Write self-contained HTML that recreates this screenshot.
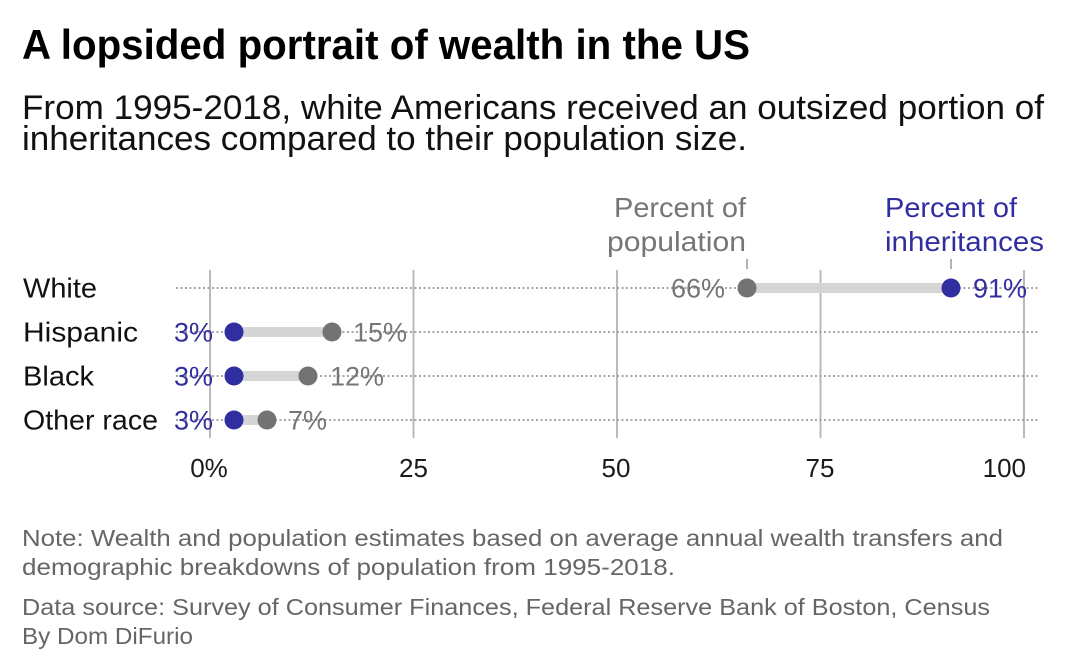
<!DOCTYPE html>
<html>
<head>
<meta charset="utf-8">
<style>
  html, body { margin: 0; padding: 0; background: #ffffff; }
  svg { display: block; }
  text { font-family: "Liberation Sans", Arial, sans-serif; }
</style>
</head>
<body>
<svg width="1080" height="672" viewBox="0 0 1080 672" xmlns="http://www.w3.org/2000/svg">
  <rect x="0" y="0" width="1080" height="672" fill="#ffffff"/>

  <!-- Title -->
  <text x="22" y="59" font-size="42" font-weight="bold" fill="#000" textLength="728" lengthAdjust="spacingAndGlyphs">A lopsided portrait of wealth in the US</text>

  <!-- Subtitle -->
  <text x="22" y="119" font-size="34" fill="#111" textLength="1022" lengthAdjust="spacingAndGlyphs">From 1995-2018, white Americans received an outsized portion of</text>
  <text x="22" y="150" font-size="34" fill="#111" textLength="725" lengthAdjust="spacingAndGlyphs">inheritances compared to their population size.</text>

  <!-- Legend -->
  <text x="746" y="217" font-size="28" fill="#767676" text-anchor="end" textLength="132" lengthAdjust="spacingAndGlyphs">Percent of</text>
  <text x="746" y="251" font-size="28" fill="#767676" text-anchor="end" textLength="139" lengthAdjust="spacingAndGlyphs">population</text>
  <text x="885" y="217" font-size="28" fill="#312e9f" textLength="132" lengthAdjust="spacingAndGlyphs">Percent of</text>
  <text x="885" y="251" font-size="28" fill="#312e9f" textLength="159" lengthAdjust="spacingAndGlyphs">inheritances</text>
  <line x1="747" y1="259" x2="747" y2="269" stroke="#9a9a9a" stroke-width="1.5"/>
  <line x1="951" y1="259" x2="951" y2="269" stroke="#9a9a9a" stroke-width="1.5"/>

  <!-- Vertical gridlines -->
  <g stroke="#b3b3b3" stroke-width="1.8">
    <line x1="210" y1="270" x2="210" y2="438"/>
    <line x1="413.5" y1="270" x2="413.5" y2="438"/>
    <line x1="617" y1="270" x2="617" y2="438"/>
    <line x1="820.5" y1="270" x2="820.5" y2="438"/>
    <line x1="1024" y1="270" x2="1024" y2="438"/>
  </g>

  <!-- Dotted row lines -->
  <g stroke="#999999" stroke-width="1.8" stroke-dasharray="2 2.5">
    <line x1="176" y1="288" x2="1040" y2="288"/>
    <line x1="176" y1="332" x2="1040" y2="332"/>
    <line x1="176" y1="376" x2="1040" y2="376"/>
    <line x1="176" y1="420" x2="1040" y2="420"/>
  </g>

  <!-- Bars -->
  <g stroke="#d3d3d3" stroke-width="10" opacity="0.95">
    <line x1="747" y1="288" x2="951" y2="288"/>
    <line x1="234" y1="332" x2="332" y2="332"/>
    <line x1="234" y1="376" x2="308" y2="376"/>
    <line x1="234" y1="420" x2="267" y2="420"/>
  </g>

  <!-- Population dots (gray) -->
  <g fill="#737373">
    <circle cx="747" cy="288" r="9.5"/>
    <circle cx="332" cy="332" r="9.5"/>
    <circle cx="308" cy="376" r="9.5"/>
    <circle cx="267" cy="420" r="9.5"/>
  </g>

  <!-- Inheritance dots (blue) -->
  <g fill="#312e9f">
    <circle cx="951" cy="288" r="9.5"/>
    <circle cx="234" cy="332" r="9.5"/>
    <circle cx="234" cy="376" r="9.5"/>
    <circle cx="234" cy="420" r="9.5"/>
  </g>

  <!-- Row labels -->
  <g font-size="28" fill="#111">
    <text x="23" y="297.5" textLength="74" lengthAdjust="spacingAndGlyphs">White</text>
    <text x="23" y="341.5" textLength="115" lengthAdjust="spacingAndGlyphs">Hispanic</text>
    <text x="23" y="385.5" textLength="71" lengthAdjust="spacingAndGlyphs">Black</text>
    <text x="23" y="429.5" textLength="135" lengthAdjust="spacingAndGlyphs">Other race</text>
  </g>

  <!-- Value labels -->
  <g font-size="27" fill="#312e9f">
    <text x="213" y="341.5" text-anchor="end">3%</text>
    <text x="213" y="385.5" text-anchor="end">3%</text>
    <text x="213" y="429.5" text-anchor="end">3%</text>
    <text x="973" y="297.5">91%</text>
  </g>
  <g font-size="27" fill="#767676">
    <text x="725" y="297.5" text-anchor="end">66%</text>
    <text x="353" y="341.5">15%</text>
    <text x="330" y="385.5">12%</text>
    <text x="288" y="429.5">7%</text>
  </g>

  <!-- Axis tick labels -->
  <g font-size="26" fill="#1a1a1a" text-anchor="middle">
    <text x="209" y="477">0%</text>
    <text x="413.5" y="477">25</text>
    <text x="616" y="477">50</text>
    <text x="820" y="477">75</text>
    <text x="1026" y="477" text-anchor="end">100</text>
  </g>

  <!-- Footer -->
  <g font-size="23" fill="#666666">
    <text x="22" y="546" textLength="981" lengthAdjust="spacingAndGlyphs">Note: Wealth and population estimates based on average annual wealth transfers and</text>
    <text x="22" y="575" textLength="653" lengthAdjust="spacingAndGlyphs">demographic breakdowns of population from 1995-2018.</text>
    <text x="22" y="615" textLength="968" lengthAdjust="spacingAndGlyphs">Data source: Survey of Consumer Finances, Federal Reserve Bank of Boston, Census</text>
    <text x="22" y="644" textLength="171" lengthAdjust="spacingAndGlyphs">By Dom DiFurio</text>
  </g>
</svg>
</body>
</html>
